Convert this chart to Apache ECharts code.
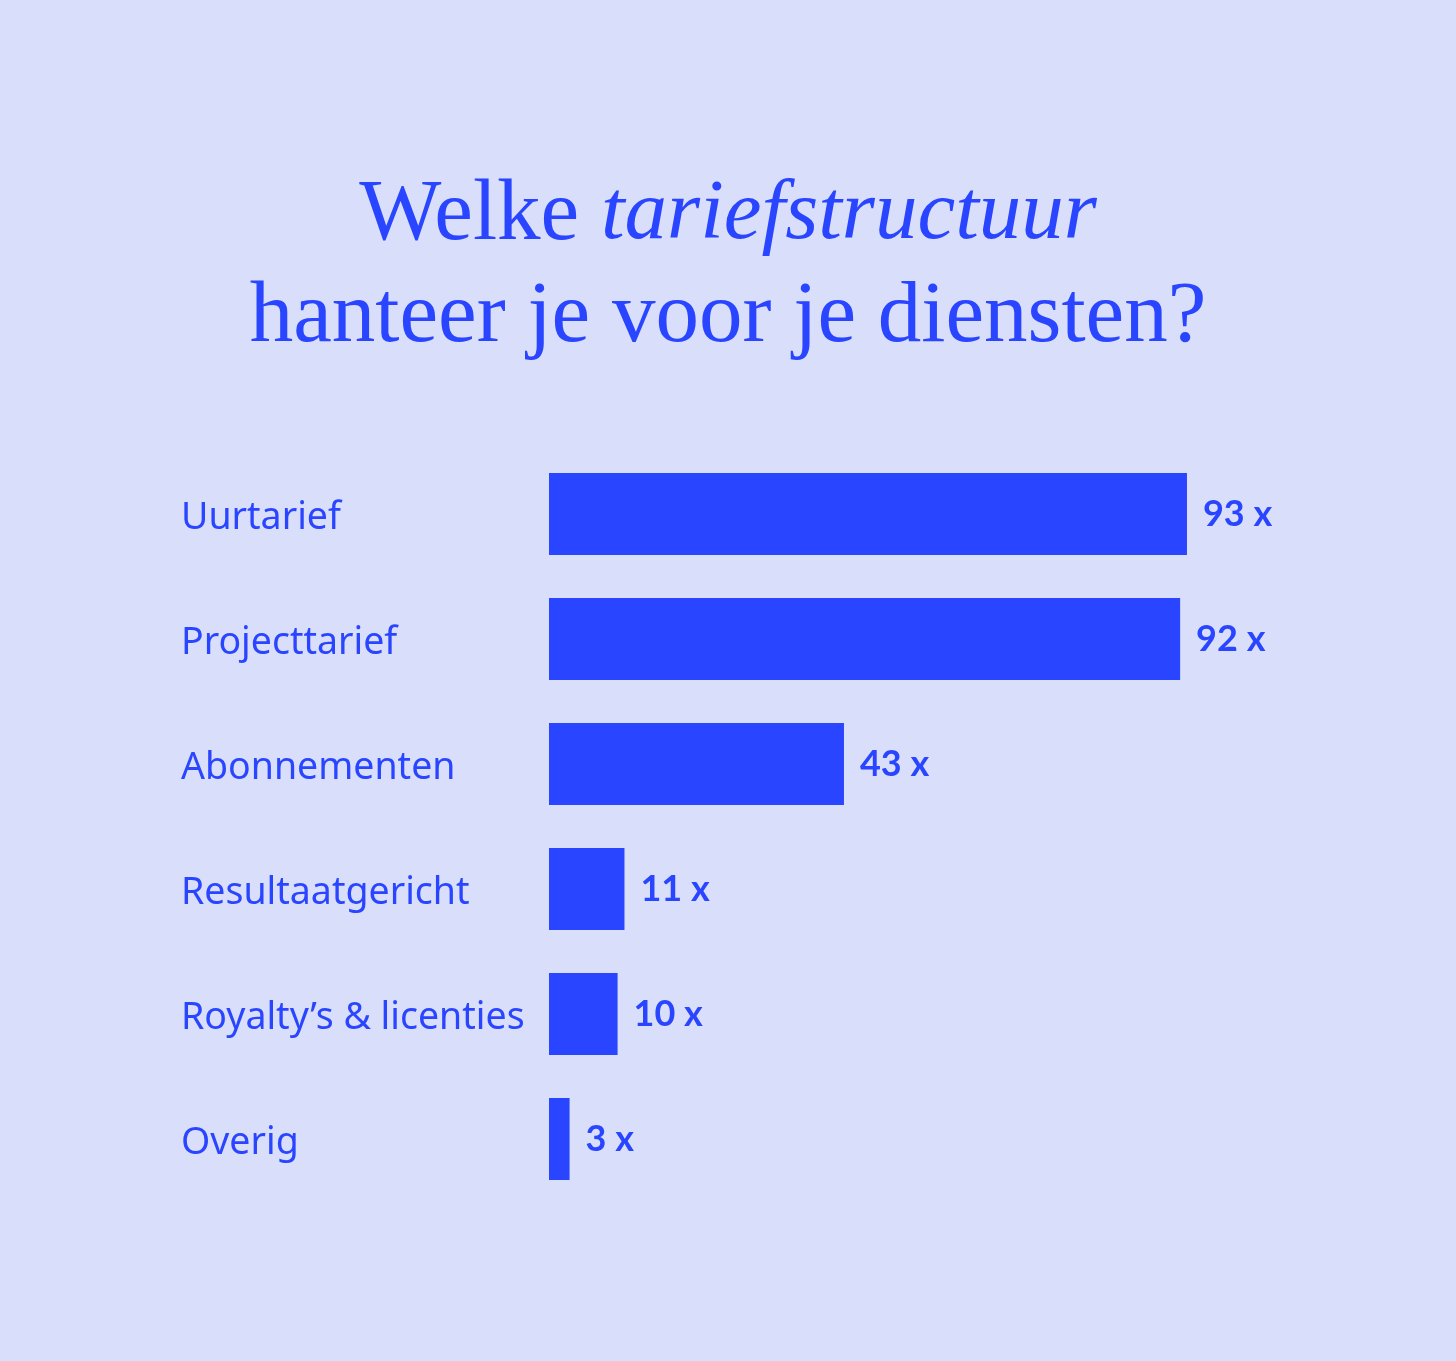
<!DOCTYPE html>
<html>
<head>
<meta charset="utf-8">
<script src="https://cdn.jsdelivr.net/npm/echarts@6/dist/echarts.min.js"></script>
<style>
html,body{margin:0;padding:0;background:#d9defa;}
#chart{width:1456px;height:1361px;}
</style>
</head>
<body>
<div id="chart"></div>
<script>
const categories = ['Uurtarief', 'Projecttarief', 'Abonnementen', 'Resultaatgericht', 'Royalty\u2019s & licenties', 'Overig'];
const values = [93, 92, 43, 11, 10, 3];
const valueSuffix = ' x';

const blue = '#2a45ff';
const chart = echarts.init(document.getElementById('chart'));
chart.setOption({
  backgroundColor: '#d9defa',
  title: {
    left: 'center',
    top: 160,
    text: '{r|Welke }{i|tariefstructuur}\n{r|hanteer je voor je diensten?}',
    textStyle: {
      fontWeight: 'normal',
      rich: {
        r: { fontFamily: 'Liberation Serif', fontWeight: 'normal', fontSize: 87, color: blue, lineHeight: 102 },
        i: { fontFamily: 'Liberation Serif', fontStyle: 'italic', fontWeight: 'normal', fontSize: 85, color: blue, lineHeight: 102 }
      }
    }
  },
  grid: { left: 549, right: 221, top: 451.5, height: 750 },
  xAxis: {
    type: 'value', min: 0, max: 100,
    show: false
  },
  yAxis: {
    type: 'category', data: categories, inverse: true,
    axisLine: { show: false }, axisTick: { show: false },
    axisLabel: {
      align: 'left', margin: 368,
      formatter: v => '{a|' + v + '}',
      rich: {
        a: { color: blue, fontFamily: 'Noto Sans', fontSize: 37.5, padding: [8, 0, 0, 0] }
      }
    }
  },
  series: [{
    type: 'bar', data: values, barWidth: 82,
    itemStyle: { color: blue },
    label: {
      show: true, position: 'right', distance: 16,
      color: blue, fontFamily: 'Lato', fontWeight: 'bold', fontSize: 36,
      padding: [4, 0, 0, 0],
      formatter: p => p.value + valueSuffix
    },
    animation: false
  }]
});
</script>
</body>
</html>
